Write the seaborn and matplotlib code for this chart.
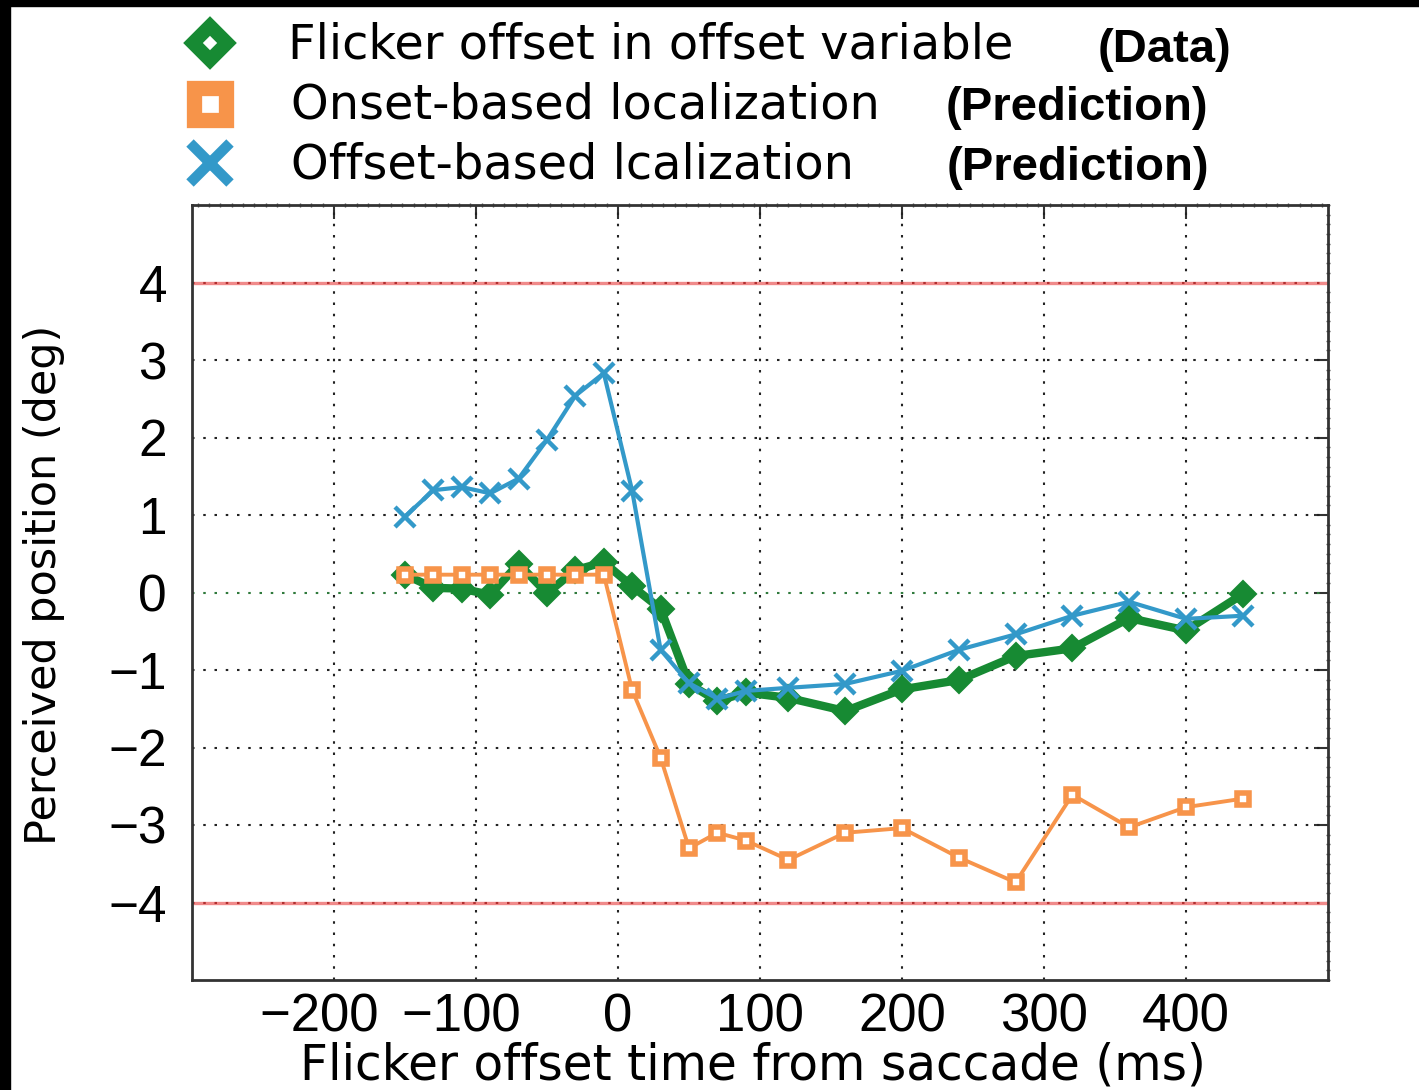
import numpy as np
import pandas as pd
import matplotlib
matplotlib.use("Agg")
import matplotlib.pyplot as plt
from matplotlib.lines import Line2D
from matplotlib.patches import Rectangle
from matplotlib.ticker import MultipleLocator
import seaborn as sns

# Flicker offset time relative to saccade onset (ms)
offset_time = [-150, -130, -110, -90, -70, -50, -30, -10, 10, 30, 50, 70, 90,
               120, 160, 200, 240, 280, 320, 360, 400, 440]

# Measured perceived position (deg)
data_offset_variable = [0.23, 0.06, 0.05, -0.03, 0.37, -0.01, 0.29, 0.39, 0.08, -0.21,
                        -1.18, -1.40, -1.29, -1.36, -1.53, -1.25, -1.13, -0.82, -0.72,
                        -0.33, -0.49, -0.02]

# Model predictions (deg)
pred_onset_based = [0.23, 0.23, 0.23, 0.23, 0.23, 0.23, 0.23, 0.23, -1.26, -2.13,
                    -3.30, -3.10, -3.20, -3.45, -3.10, -3.04, -3.42, -3.74, -2.61,
                    -3.03, -2.77, -2.66]
pred_offset_based = [0.98, 1.32, 1.36, 1.28, 1.47, 1.97, 2.54, 2.83, 1.31, -0.74,
                     -1.17, -1.37, -1.27, -1.23, -1.18, -1.01, -0.74, -0.54, -0.30,
                     -0.12, -0.34, -0.30]

x_ticks = [-200, -100, 0, 100, 200, 300, 400]
y_ticks = [-4, -3, -2, -1, 0, 1, 2, 3, 4]

legend_labels = ["Flicker offset in offset variable", "Onset-based localization",
                 "Offset-based lcalization"]
legend_tags = ["(Data)", "(Prediction)", "(Prediction)"]

GREEN = "#178a33"
ORANGE = "#f7944a"
BLUE = "#3399c9"

sns.set_style("white")
plt.rcParams["font.family"] = ["Liberation Sans", "DejaVu Sans"]
plt.rcParams["axes.unicode_minus"] = True
plt.rcParams["text.color"] = "black"
plt.rcParams["xtick.labelcolor"] = "black"
plt.rcParams["ytick.labelcolor"] = "black"

W, H = 1419, 1090
fig = plt.figure(figsize=(W / 100, H / 100), dpi=100)
fig.patch.set_facecolor("white")


def fx(px):
    return px / W


def fy(py):
    return 1 - py / H


ax = fig.add_axes([fx(192), fy(980), fx(1328 - 192), (980 - 205) / H])
ax.set_xlim(-300, 500)
ax.set_ylim(-5, 5)

df = pd.DataFrame({
    "t": offset_time,
    "data": data_offset_variable,
    "onset": pred_onset_based,
    "offset": pred_offset_based,
})

# reference lines: dotted grid, green zero line, red +-4 bounds
dots = (0, (1.2, 4.2))
for xv in x_ticks:
    ax.axvline(xv, color="#222222", lw=1.5, ls=dots, zorder=1)
for yv in [-3, -2, -1, 1, 2, 3]:
    ax.axhline(yv, color="#222222", lw=1.5, ls=dots, zorder=1)
ax.axhline(0, color="#2f7a3c", lw=1.5, ls=dots, zorder=1)
for yv in [-4, 4]:
    ax.axhline(yv, color="#f08a8a", lw=2.4, zorder=1)
    ax.axhline(yv, color="#b03030", lw=1.5, ls=dots, zorder=1.1)

sns.lineplot(data=df, x="t", y="data", ax=ax, color=GREEN, lw=6,
             marker="D", markersize=13.5, markeredgewidth=1.5,
             markeredgecolor=GREEN, markerfacecolor=GREEN, zorder=3)
sns.lineplot(data=df, x="t", y="onset", ax=ax, color=ORANGE, lw=2.8,
             marker="s", markersize=9, markeredgewidth=4,
             markeredgecolor=ORANGE, markerfacecolor="white", zorder=4)
sns.lineplot(data=df, x="t", y="offset", ax=ax, color=BLUE, lw=3,
             marker="x", markersize=14, markeredgewidth=3.2,
             markeredgecolor=BLUE, zorder=5)


def x_label_text(v):
    # negative labels keep their digits centred on the tick, minus hangs left
    return "\u2212" + str(-v) + "\u2007" if v < 0 else str(v)


ax.set_xlabel("")
ax.set_ylabel("")
ax.set_xticks(x_ticks)
ax.set_yticks(y_ticks)
ax.set_xticklabels([x_label_text(v) for v in x_ticks])
ax.set_yticklabels([str(v).replace("-", "\u2212") for v in y_ticks])
ax.xaxis.set_minor_locator(MultipleLocator(8))
ax.yaxis.set_minor_locator(MultipleLocator(0.125))
ax.tick_params(axis="both", which="major", direction="in", length=10, width=1.5,
               color="#333333", labelcolor="black", top=True, right=True)
ax.tick_params(axis="both", which="minor", direction="inout", length=3, width=1,
               color="#555555", top=True, right=True)
ax.tick_params(axis="x", which="major", labelsize=38, pad=9)
ax.tick_params(axis="y", which="major", labelsize=37, pad=18)
for sp in ax.spines.values():
    sp.set_visible(True)
    sp.set_color("#333333")
    sp.set_linewidth(2)

# axis titles
fig.text(fx(753), 0.0, "Flicker offset time from saccade (ms)",
         ha="center", va="bottom", fontsize=35, color="black",
         family=["DejaVu Sans"])
fig.text(fx(44), fy(585), "Perceived position (deg)", rotation=90,
         ha="center", va="center", fontsize=31, color="black",
         family=["DejaVu Sans"])

# key above the axes
fig.add_artist(Line2D([fx(210)], [fy(43)], transform=fig.transFigure, marker="D",
                      markersize=17, markeredgewidth=10, markeredgecolor=GREEN,
                      markerfacecolor="white", ls="none"))
fig.add_artist(Line2D([fx(210)], [fy(104)], transform=fig.transFigure, marker="s",
                      markersize=23, markeredgewidth=11, markeredgecolor=ORANGE,
                      markerfacecolor="white", ls="none"))
fig.add_artist(Line2D([fx(210)], [fy(163)], transform=fig.transFigure, marker="x",
                      markersize=29, markeredgewidth=7.5, markeredgecolor=BLUE,
                      ls="none"))

label_x = [288, 291, 291]
label_y = [45, 105, 165]
tag_x = [1098, 946, 947]
tag_y = [50, 108, 168]
for lab, lx, ly in zip(legend_labels, label_x, label_y):
    fig.text(fx(lx), fy(ly), lab, ha="left", va="center", fontsize=34.5,
             color="black", family=["DejaVu Sans"])
for tag, tx, ty in zip(legend_tags, tag_x, tag_y):
    fig.text(fx(tx), fy(ty), tag, ha="left", va="center", fontsize=34,
             color="black", fontweight="bold",
             family=["Liberation Sans", "DejaVu Sans"])

# dark frame strips on the left and top edges
fig.add_artist(Rectangle((0, 0), fx(10), 1, transform=fig.transFigure,
                         color="black", zorder=10))
fig.add_artist(Rectangle((0, fy(6)), 1, 6 / H, transform=fig.transFigure,
                         color="black", zorder=10))

fig.savefig("out.png", dpi=100)
